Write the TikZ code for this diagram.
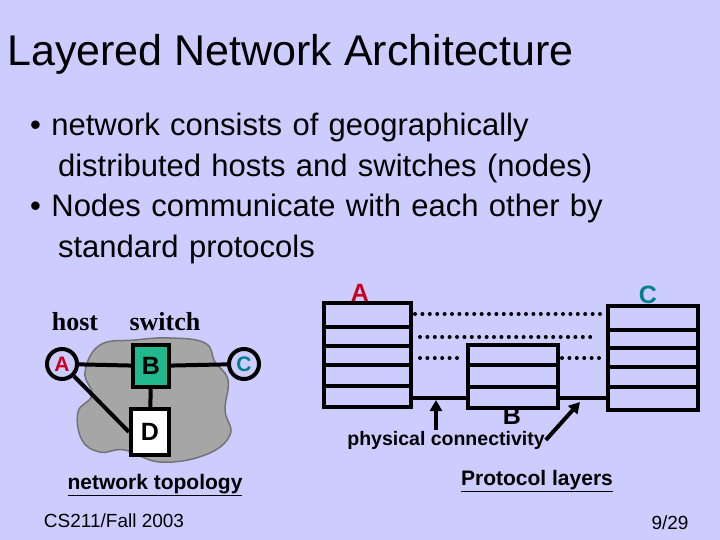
\documentclass[tikz,border=0pt]{standalone}
\usepackage{fontspec}
\setmainfont{Liberation Sans}
\newfontfamily\serifb{Liberation Serif}
\usetikzlibrary{arrows.meta}
\definecolor{bg}{RGB}{204,204,255}
\definecolor{tealb}{RGB}{32,184,140}
\definecolor{redA}{RGB}{200,0,30}
\definecolor{tealC}{RGB}{0,128,140}
\begin{document}
\begin{tikzpicture}[x=1pt,y=-1pt,
 lay/.style={line width=4.5pt},
 lbl/.style={font=\bfseries\fontsize{25}{27}\selectfont},
 slbl/.style={font=\bfseries\fontsize{21}{23}\selectfont},
 dots/.style={line width=4pt,dash pattern=on 0pt off 7.4pt,line cap=round},
 arr/.style={line width=4pt,-{Triangle[length=11pt,width=12pt]}}]
\fill[bg] (0,0) rectangle (720,540);
\useasboundingbox (0,0) rectangle (720,540);
\node[anchor=west,font=\fontsize{43}{46}\selectfont,inner sep=0pt] (title) at (7,54) {Layered Network Architecture};
\node[anchor=north west,align=left,text width=680pt,inner sep=0pt,font=\fontsize{31}{40.5}\selectfont] (bul) at (30,113)
 {\textbullet\ network consists of geographically\\\hspace*{0.9em}distributed hosts and switches (nodes)\\
  \textbullet\ Nodes communicate with each other by\\\hspace*{0.9em}standard protocols};
% cloud
\fill[gray!70,draw=gray!90!black,line width=1.5pt] plot[smooth cycle,tension=0.7] coordinates
 {(100,345)(135,340)(170,338)(205,343)(215,362)(228,380)(225,410)(230,435)(205,455)(160,462)(125,450)(100,452)(82,440)(78,412)(92,395)(85,372)};
\node[anchor=base,font=\serifb\bfseries\fontsize{26}{28}\selectfont] (host) at (75,330) {host};
\node[anchor=base,font=\serifb\bfseries\fontsize{26}{28}\selectfont] (sw) at (165,330) {switch};
\node[circle,draw,line width=4pt,minimum size=30pt,inner sep=0pt,text=redA,slbl] (nA) at (62,364) {A};
\node[draw,line width=4pt,fill=tealb,minimum width=36pt,minimum height=42pt,lbl] (nB) at (151,366) {B};
\node[circle,draw,line width=4pt,minimum size=30pt,inner sep=0pt,text=tealC,slbl] (nC) at (244,364) {C};
\node[draw,line width=4pt,fill=white,minimum width=38pt,minimum height=46pt,lbl] (nD) at (150,432) {D};
\draw[line width=4pt] (nA) -- (nB) (nB) -- (nC) (nB) -- (nD) (nA) -- (nD.west);
\node[font=\bfseries\fontsize{21}{23}\selectfont] (nt) at (155,485) {\underline{network topology}};
% protocol stacks
\draw[lay] (324,303) rectangle (411,407);
\foreach \y in {327,346,365,386} \draw[lay] (324,\y) -- (411,\y);
\draw[lay] (608,306) rectangle (698,410);
\foreach \y in {330,348,367,387} \draw[lay] (608,\y) -- (698,\y);
\draw[lay] (468,345) rectangle (558,408);
\foreach \y in {365,387} \draw[lay] (468,\y) -- (558,\y);
\coordinate (p1) at (411,398); \coordinate (p2) at (468,398);
\coordinate (p3) at (558,398); \coordinate (p4) at (608,398);
\draw[lay] (p1) -- (p2) (p3) -- (p4);
\draw[dots] (415,314) -- (605,314);
\draw[dots] (420,337) -- (595,337);
\draw[dots] (420,358) -- (458,358);
\draw[dots] (562,358) -- (600,358);
\node[lbl,text=redA] (lA) at (360,293) {A};
\node[lbl,text=tealC] (lC) at (648,295) {C};
\node[lbl] (lB) at (512,416) {B};
\node[font=\bfseries\fontsize{19.5}{21}\selectfont,inner sep=1pt] (pc) at (446,440) {physical connectivity};
\coordinate (a1) at (436,400); \coordinate (a2) at (580,402);
\draw[arr] (436,430) -- (a1);
\draw[arr] (pc.east) -- (a2);
\node[font=\bfseries\fontsize{21}{23}\selectfont] (pl) at (537,481) {\underline{Protocol layers}};
\node[font=\fontsize{19}{21}\selectfont] (cs) at (114,521) {CS211/Fall 2003};
\node[font=\fontsize{19}{21}\selectfont] (pg) at (670,523) {9/29};
\end{tikzpicture}
\end{document}
